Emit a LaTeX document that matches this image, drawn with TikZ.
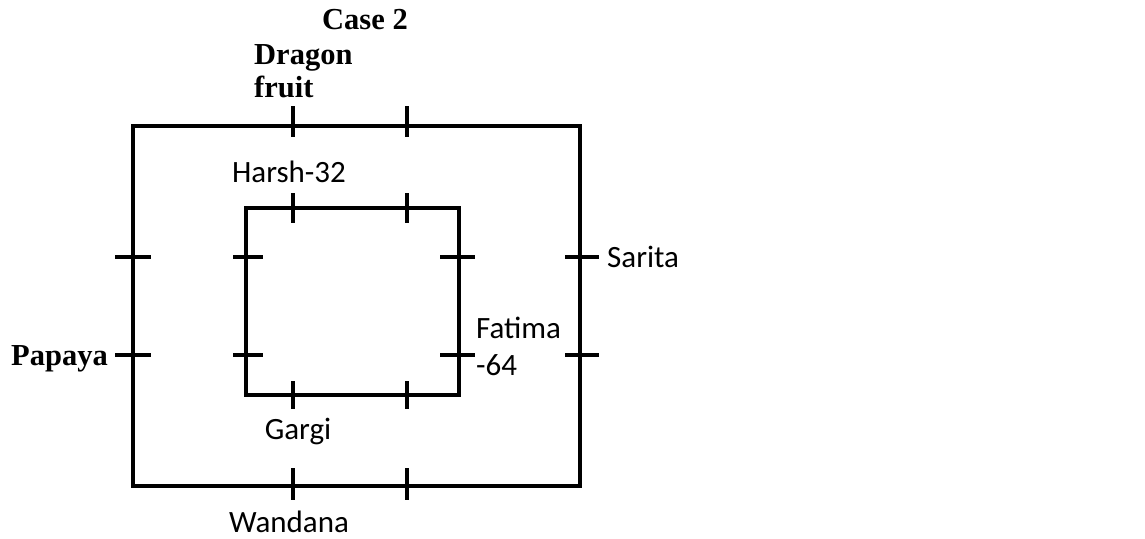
\documentclass[tikz,border=0pt]{standalone}
\usepackage{fontspec}
\setmainfont{Carlito}
\newfontfamily\bser{Liberation Serif}
\begin{document}
\begin{tikzpicture}[x=1pt,y=-1pt,
  frame/.style={line width=3.2pt},
  tk/.style={line width=3.2pt},
  lab/.style={font=\fontsize{31}{37}\selectfont, inner sep=0pt, anchor=base},
  blab/.style={font=\fontsize{30.5}{33}\selectfont\bser\bfseries, inner sep=0pt, anchor=base}]
\useasboundingbox (0,0) rectangle (1145,538);
% outer rectangle
\draw[frame] (133,126) rectangle (580,486);
% inner rectangle
\draw[frame] (246,208) rectangle (459,395);
% ticks
\foreach \x in {293,407} {
  \draw[tk] (\x,106) -- (\x,137);
  \draw[tk] (\x,468) -- (\x,500);
  \draw[tk] (\x,193) -- (\x,223);
  \draw[tk] (\x,381) -- (\x,409);
}
\foreach \y in {257,355} {
  \draw[tk] (115,\y) -- (151,\y);
  \draw[tk] (565,\y) -- (599,\y);
  \draw[tk] (233,\y) -- (263,\y);
  \draw[tk] (440,\y) -- (475,\y);
}
% labels
\node[blab] (case) at (365,29) {Case 2};
\node[blab, anchor=base west] (dragon) at (254,64) {Dragon};
\node[blab, anchor=base west] (fruit) at (254,97) {fruit};
\node[blab, anchor=base east] (papaya) at (108,365) {Papaya};
\node[lab] (harsh) at (289,182) {Harsh-32};
\node[lab, anchor=base west] (sarita) at (607,267) {Sarita};
\node[lab, anchor=base west] (fatima) at (476,338) {Fatima};
\node[lab, anchor=base west] (sixtyfour) at (476,375) {-64};
\node[lab] (gargi) at (298,439) {Gargi};
\node[lab] (wandana) at (289,532) {Wandana};
\end{tikzpicture}
\end{document}
